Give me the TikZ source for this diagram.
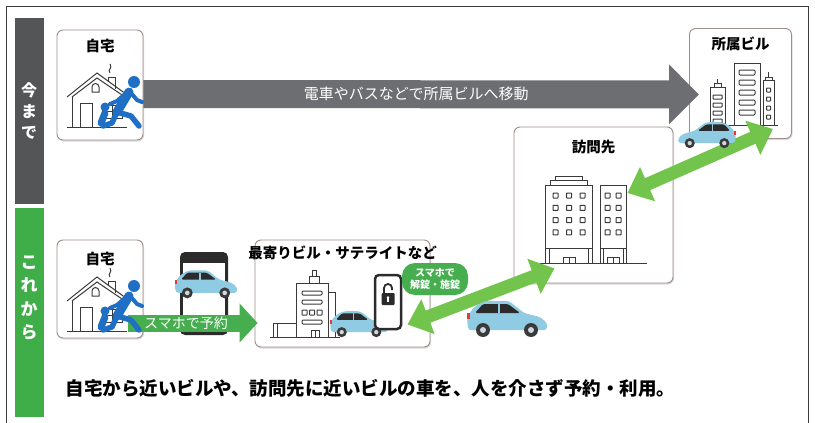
\documentclass[tikz,border=0pt]{standalone}
\usepackage{fontspec}
\setmainfont{Noto Sans CJK JP}
\usepackage{tikz}
\usetikzlibrary{positioning,calc,arrows.meta,shadows}
\usepackage{xcolor}

\definecolor{bargrey}{HTML}{545557}
\definecolor{bargreen}{HTML}{3FAE49}
\definecolor{arrowgrey}{HTML}{6D6E71}
\definecolor{lightgreen}{HTML}{72C44C}
\definecolor{darkgreen}{HTML}{46AE4F}
\definecolor{cardline}{HTML}{9D8E89}
\definecolor{iconline}{HTML}{3A3A3A}
\definecolor{walker}{HTML}{1F6FC5}
\definecolor{carblue}{HTML}{8FCBE3}
\definecolor{carglass}{HTML}{2B2B2B}
\definecolor{hub}{HTML}{CFD8DC}
\definecolor{taillight}{HTML}{E53935}

\tikzset{
  card/.style = {draw=cardline, line width=0.9pt, fill=white, rounded corners=6pt,
    drop shadow={shadow xshift=1pt, shadow yshift=-1.5pt, opacity=0.3}},
  cardtitle/.style = {inner sep=0pt, font=\bfseries\fontsize{14.5}{16}\selectfont},
  icon/.style = {draw=iconline, line width=1pt},
  greyarrow/.style = {line width=28pt, draw=arrowgrey, -{Triangle[length=30pt 0, width=58pt 0]}},
  bookarrow/.style = {line width=17pt, draw=darkgreen, -{Triangle[length=18pt 0, width=38pt 0]}},
  swaparrow/.style = {line width=13pt, draw=lightgreen,
    {Triangle[length=22pt 0, width=36pt 0]}-{Triangle[length=22pt 0, width=36pt 0]}},
  % small car, origin between the wheels, nose towards +x
  car/.pic = {
    \fill[carblue, rounded corners=3pt] (-39,-4) -- (-40,-17) -- (-33,-27) -- (-22,-33)
      -- (2,-33) -- (17,-21) -- (33,-17) -- (40,-11) -- (40,-4) -- cycle;
    \fill[carglass, rounded corners=1.5pt] (-32,-21) -- (-24,-30) -- (1,-30) -- (13,-21) -- cycle;
    \fill[carblue] (-9,-30) rectangle (-7,-21);
    \fill[taillight] (-40,-21) rectangle (-37,-15);
    \foreach \u in {-24,24}{
      \fill[iconline] (\u,-4) circle (7);
      \fill[hub] (\u,-4) circle (3);
    }
  },
  % house with a walker and a child, origin at the card centre
  home/.pic = {
    \draw[icon] (-33,12) -- (-3,-12) -- (30,12);
    \draw[icon] (-28,12) -- (-3,-7) -- (25,12);
    \draw[icon] (8,-4) -- (8,-8) -- (15,-8) -- (15,4);
    \draw[icon] (10,-12) .. controls (7,-15) and (13,-17) .. (10,-21);
    \draw[icon] (-28,12) -- (-28,42);
    \draw[icon] (-20,42) -- (-20,18) -- (-8,18) -- (-8,42);
    \draw[icon] (2,20) rectangle (22,33);
    \draw[icon] (12,20) -- (12,33) (2,26.5) -- (22,26.5);
    \draw[icon] (-8,7) -- (-8,2) arc (180:360:3.5) -- (-1,7) -- cycle;
    \draw[icon] (-33,42) -- (27,42);
    \fill[walker] (34,-3) circle (6);
    \draw[walker, line width=9pt, line cap=round] (29,7) -- (17,27);
    \draw[walker, line width=4pt, line cap=round, line join=round] (31,8) -- (37,15) -- (42,17);
    \draw[walker, line width=4pt, line cap=round, line join=round] (25,9) -- (17,16) -- (10,19);
    \draw[walker, line width=5.5pt, line cap=round, line join=round] (17,27) -- (31,31) -- (39,41);
    \draw[walker, line width=5.5pt, line cap=round, line join=round] (17,27) -- (12,38) -- (3,41);
    \fill[walker] (5,22) circle (4.5);
    \draw[walker, line width=7pt, line cap=round] (5,28) -- (1,38);
  }
}

\begin{document}
\begin{tikzpicture}[x=1pt, y=-1pt]
\useasboundingbox (0,0) rectangle (815,423);

% frame and the two side bars
\draw[iconline, line width=1pt] (6,423) -- (6,6) -- (808,6) -- (808,423);
\fill[bargrey] (15,18) rectangle (44,204);
\fill[bargreen] (15,208) rectangle (44,417);
\node[text=white, align=center, font=\bfseries\fontsize{16}{21}\selectfont] (before) at (29,111) {今\\ま\\で};
\node[text=white, align=center, font=\bfseries\fontsize{17}{23.5}\selectfont] (after) at (29,298) {こ\\れ\\か\\ら};

% cards
\node[card, minimum width=86pt, minimum height=110pt] (home1) at (100,85) {};
\node[card, minimum width=102pt, minimum height=110pt] (office) at (740.5,83.5) {};
\node[card, minimum width=159pt, minimum height=156pt] (visit) at (593.5,205) {};
\node[card, minimum width=86pt, minimum height=98pt] (home2) at (100,289) {};
\node[card, minimum width=175pt, minimum height=107pt] (nearby) at (342.5,293.5) {};

\node[cardtitle, below=9pt of home1.north] {自宅};
\node[cardtitle, below=9pt of office.north] {所属ビル};
\node[cardtitle, below=13pt of visit.north] {訪問先};
\node[cardtitle, below=12pt of home2.north] {自宅};
\node[cardtitle, below=6pt of nearby.north] {最寄りビル・サテライトなど};

% today: by train or bus
\draw[greyarrow] ($(home1.east)+(0,9)$) -- ($(office.west)+(10,11)$);
\node[text=white, font=\fontsize{15}{17}\selectfont] (commute) at ($(home1.east)!0.5!(office.west)+(0,10)$) {電車やバスなどで所属ビルへ移動};
\pic at (home1.center) {home};

% office towers
\draw[icon] (710,125) -- (710,87) -- (725,87) -- (725,125);
\draw[icon] (714,87) -- (714,83) -- (721,83) -- (721,87) (717.5,83) -- (717.5,79);
\foreach \y in {95,103,111,119}
  \draw[icon, rounded corners=0.5pt] (713,\y) rectangle (722,\y+4);
\draw[icon] (734,125) -- (734,63) -- (760,63) -- (760,125);
\foreach \y in {70,80,90,100,110}
  \draw[icon, rounded corners=1pt] (739,\y) rectangle (755,\y+5);
\draw[icon] (763,125) -- (763,80) -- (774,80) -- (774,125);
\draw[icon] (765,80) -- (765,77) -- (772,77) -- (772,80) (768.5,77) -- (768.5,72);
\foreach \y in {88,97,106,115}
  \draw[icon, rounded corners=0.5pt] (766.5,\y) rectangle (770.5,\y+4);
\draw[icon] (705,125.5) -- (778,125.5);

% visit: two blocks
\draw[icon] (545,263) -- (545,185) -- (592,185) -- (592,263);
\draw[icon] (550,185) -- (550,180) -- (587,180) -- (587,185) (555,180) -- (555,176) -- (582,176) -- (582,180);
\foreach \c in {0,1,2}
  \foreach \r in {0,1,2,3}
    \draw[icon, rounded corners=0.5pt] (553+\c*13.5,193+\r*12.3) rectangle ++(5,5);
\draw[icon] (545,248) -- (592,248) (549,248) -- (549,263) (588,248) -- (588,263);
\draw[icon] (563,263) -- (563,257) -- (575,257) -- (575,263) (569,257) -- (569,263);
\draw[icon] (600,263) -- (600,185) -- (626,185) -- (626,263);
\foreach \c in {0,1}
  \foreach \r in {0,1,2,3}
    \draw[icon, rounded corners=0.5pt] (605+\c*11,193+\r*12.3) rectangle ++(5,5);
\draw[icon] (600,248) -- (626,248) (603,248) -- (603,263) (623,248) -- (623,263);
\draw[icon] (607,263) -- (607,257) -- (619,257) -- (619,263) (613,257) -- (613,263);
\draw[icon] (537,263) -- (647,263);

% from now on: book with the phone
\fill[carglass, rounded corners=5pt] (180,252) rectangle (228,335);
\fill[white] (183,263) rectangle (225,326);
\pic[scale=0.78] at (206,296) {car};
\draw[bookarrow] ($(home2.east)+(-15,34)$) -- ($(nearby.west)+(3,29.5)$);
\node[text=white, font=\fontsize{14}{16}\selectfont] (book) at (186,323) {スマホで予約};
\pic at (home2.center) {home};

% nearby building
\draw[icon] (296,337) -- (296,283) -- (328,283) -- (328,337);
\draw[icon] (309,283) -- (309,276) -- (319,276) -- (319,283) (312,276) -- (312,270) -- (316,270) -- (316,276);
\draw[icon] (273,337) -- (273,323) -- (296,323) (277,323) -- (277,337);
\draw[icon] (328,292) -- (335,292) -- (335,337);
\foreach \y in {291,300,320}
  \draw[icon, rounded corners=1pt] (302,\y) rectangle (322,\y+4);
\foreach \x in {302,309.5,317}
  \draw[icon, rounded corners=0.5pt] (\x,310) rectangle ++(5,5);
\draw[icon] (311,337) -- (311,330) -- (319,330) -- (319,337) (315,330) -- (315,337);
\draw[icon] (270,337) -- (340,337);
\pic[scale=0.72] at (359,335) {car};

% phone that opens the car
\draw[carglass, line width=2.5pt, rounded corners=4pt, fill=white] (375,275) rectangle (401,329);
\fill[carglass, rounded corners=1pt] (381.5,293) rectangle (394.5,305);
\draw[carglass, line width=1.8pt] (384,293) -- (384,288) arc (180:360:4) -- (392,290);
\fill[white] (388,297.5) circle (1.4);
\fill[white] (387.4,297.5) rectangle (388.6,301.5);
\node[fill=darkgreen, rounded corners=13pt, text=white, align=center, inner sep=2pt,
  minimum width=66pt, minimum height=32pt, font=\bfseries\fontsize{10}{12}\selectfont] (unlock) at (435,279) {スマホで\\解錠・施錠};

% drive there and back
\coordinate (n1) at ($(nearby.east)+(-23,31)$);
\coordinate (v1) at ($(visit.south west)+(41,-15)$);
\coordinate (v2) at ($(visit.east)+(-46,-12)$);
\coordinate (o1) at ($(office.south east)+(-19,-10)$);
\draw[swaparrow] (n1) -- (v1);
\draw[swaparrow] (v2) -- (o1);
\pic at (507,334) {car};
\pic[xscale=-0.72, yscale=0.72] at (707,146) {car};

\node[anchor=west, font=\bfseries\fontsize{18.5}{20}\selectfont] (summary) at (62,388)
  {自宅から近いビルや、訪問先に近いビルの車を、人を介さず予約・利用。};
\end{tikzpicture}
\end{document}
